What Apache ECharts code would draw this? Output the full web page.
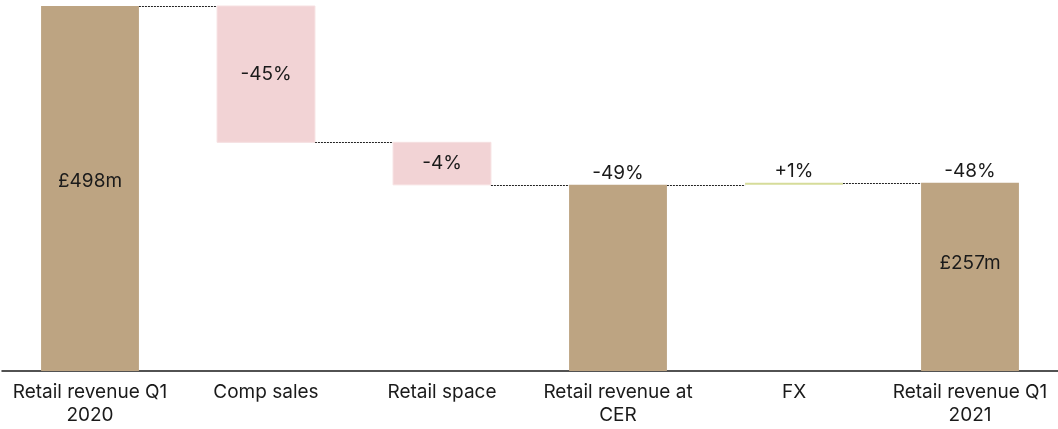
<!DOCTYPE html>
<html><head><meta charset="utf-8">
<script src="https://cdn.jsdelivr.net/npm/echarts@6/dist/echarts.min.js"></script>
<style>html,body{margin:0;padding:0;background:#fff}#c{width:1058px;height:429px}</style>
</head><body><div id="c"></div>
<script>
var categories = ["Retail revenue Q1\n2020", "Comp sales", "Retail space", "Retail revenue at\nCER", "FX", "Retail revenue Q1\n2021"];
var barLow  = [0, 312, 254, 0, 254, 0];
var barHigh = [498, 498, 312, 254, 257, 257];
var barKind = ["total", "decrease", "decrease", "total", "increase", "total"];
var insideLabels = ["£498m", "-45%", "-4%", "", "", "£257m"];
var topLabels = ["", "", "", "-49%", "+1%", "-48%"];
var connectorLevels = [498, 312, 254, 254, 257];

var insideOffset = [-7, 0, 0, 0, 0, -14];
var colors = { total: "#BDA482", decrease: "#F2D3D5", increase: "#D6DC9A" };
var FONT = "Inter, 'Noto Sans', sans-serif";
var FS = 19;
var chart = echarts.init(document.getElementById('c'));
var barData = categories.map(function (c, i) { return [i, barLow[i], barHigh[i]]; });
var connData = connectorLevels.map(function (v, i) { return [i, v]; });
var BW = 0.556;

chart.setOption({
  animation: false,
  grid: { left: 2, width: 1061, top: 6, bottom: 58 },
  xAxis: {
    type: 'category', data: categories,
    axisLine: { show: true, lineStyle: { color: '#1a1a1a', width: 1.5 } },
    axisTick: { show: false },
    axisLabel: { color: '#1a1a1a', fontFamily: FONT, fontSize: FS, lineHeight: 23, margin: 10, interval: 0 }
  },
  yAxis: { type: 'value', min: 0, max: 498, show: false, splitLine: { show: false } },
  series: [
    {
      type: 'custom',
      data: connData,
      z: 1,
      renderItem: function (params, api) {
        var i = api.value(0), v = api.value(1);
        var w = api.size([1, 0])[0];
        var p1 = api.coord([i, v]), p2 = api.coord([i + 1, v]);
        var y = Math.round(p1[1]) + 0.5;
        return {
          type: 'line',
          shape: { x1: p1[0] + w * BW / 2, y1: y, x2: p2[0] - w * BW / 2, y2: y },
          style: { stroke: '#222', lineWidth: 1, lineDash: [2, 1] }
        };
      }
    },
    {
      type: 'custom',
      data: barData,
      z: 2,
      renderItem: function (params, api) {
        var i = api.value(0), lo = api.value(1), hi = api.value(2);
        var w = api.size([1, 0])[0] * BW;
        var pLo = api.coord([i, lo]), pHi = api.coord([i, hi]);
        var kind = barKind[i];
        var h = pLo[1] - pHi[1];
        if (kind === 'increase') h = Math.max(h, 2);
        var children = [{
          type: 'rect',
          shape: { x: pHi[0] - w / 2, y: pHi[1], width: w, height: h },
          style: { fill: colors[kind], stroke: kind === 'decrease' ? '#F6E0E1' : null, lineWidth: 1 }
        }];
        if (insideLabels[i]) {
          children.push({
            type: 'text',
            style: { text: insideLabels[i], x: pHi[0], y: (pHi[1] + pLo[1]) / 2 + insideOffset[i], align: 'center', verticalAlign: 'middle',
              fill: '#1a1a1a', font: FS + 'px ' + FONT }
          });
        }
        if (topLabels[i]) {
          children.push({
            type: 'text',
            style: { text: topLabels[i], x: pHi[0], y: pHi[1] - 2, align: 'center', verticalAlign: 'bottom',
              fill: '#1a1a1a', font: FS + 'px ' + FONT }
          });
        }
        return { type: 'group', children: children };
      }
    }
  ]
});
</script></body></html>
